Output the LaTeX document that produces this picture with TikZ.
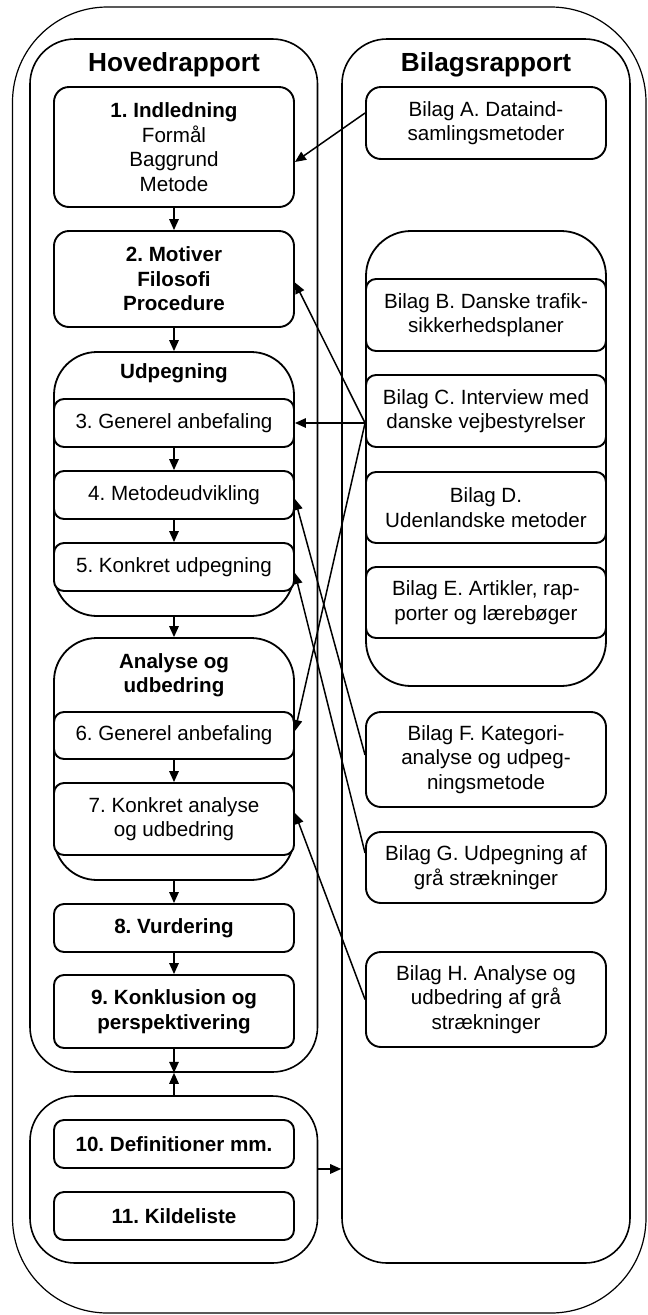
\documentclass[tikz,border=0pt]{standalone}
\usepackage{fontspec}
\setmainfont{Liberation Sans}
\frenchspacing
\usetikzlibrary{arrows.meta}

\begin{document}
\begin{tikzpicture}[x=1pt,y=-1pt,
  frame/.style={draw, line width=1.2pt, rounded corners=95pt, inner sep=0pt},
  part/.style={draw, line width=1.6pt, rounded corners=45pt, inner sep=0pt},
  group/.style={draw, fill=white, line width=1.8pt, rounded corners=43pt, inner sep=0pt},
  bigbox/.style={draw, fill=white, line width=1.9pt, rounded corners=15pt, align=center, inner sep=0pt,
    font=\fontsize{20.6}{24.5}\selectfont},
  smallbox/.style={bigbox, rounded corners=10pt},
  boldtext/.style={font=\fontsize{20.6}{24.5}\selectfont\bfseries},
  title/.style={font=\fontsize{26.2}{30}\selectfont\bfseries},
  link/.style={line width=1.5pt, -{Triangle[length=11pt,width=9.5pt]}},
]
\useasboundingbox (0,0) rectangle (648,1315);

% outer frame and the two report columns
\node[frame, minimum width=633.5pt, minimum height=1306pt] (frame) at (329.25,660) {};
\node[part, minimum width=287.5pt, minimum height=1033pt] (hoved) at (173.75,555.5) {};
\node[part, minimum width=288pt, minimum height=1224pt] (bilag) at (486,651) {};
\node[part, minimum width=287.5pt, minimum height=167pt] (lower) at (173.75,1179.5) {};

\node[title] (thoved) at (174,65) {Hovedrapport};
\node[title] (tbilag) at (486,65) {Bilagsrapport};

% main report chapters
\node[bigbox, minimum width=240pt, minimum height=120pt] (b1) at (174,147)
  {\textbf{1. Indledning}\\Formål\\Baggrund\\Metode};
\node[bigbox, minimum width=240pt, minimum height=96pt, boldtext] (b2) at (174,279)
  {2. Motiver\\Filosofi\\Procedure};

\node[group, minimum width=240pt, minimum height=264pt] (udp) at (174,484) {};
\node[boldtext] (tudp) at (174,373) {Udpegning};
\node[smallbox, minimum width=240pt, minimum height=48pt] (b3) at (174,423) {3. Generel anbefaling};
\node[smallbox, minimum width=240pt, minimum height=48pt] (b4) at (174,495) {4. Metodeudvikling};
\node[smallbox, minimum width=240pt, minimum height=48pt] (b5) at (174,567) {5. Konkret udpegning};

\node[group, minimum width=240pt, minimum height=242pt] (ana) at (174,759) {};
\node[boldtext, align=center] (tana) at (174,675) {Analyse og\\udbedring};
\node[smallbox, minimum width=240pt, minimum height=47pt] (b6) at (174,735.5) {6. Generel anbefaling};
\node[smallbox, minimum width=240pt, minimum height=72pt] (b7) at (174,819) {7. Konkret analyse\\og udbedring};

\node[smallbox, minimum width=240pt, minimum height=48pt, boldtext] (b8) at (174,928) {8. Vurdering};
\node[smallbox, minimum width=240pt, minimum height=73pt, boldtext] (b9) at (174,1011.5) {9. Konklusion og\\perspektivering};

\node[smallbox, minimum width=240pt, minimum height=48pt, boldtext] (b10) at (174,1144) {10. Definitioner mm.};
\node[smallbox, minimum width=240pt, minimum height=48pt, boldtext] (b11) at (174,1216) {11. Kildeliste};

% appendices
\node[bigbox, minimum width=240pt, minimum height=72pt] (bA) at (486,123) {Bilag A. Dataind-\\samlingsmetoder};
\node[group, rounded corners=45pt, minimum width=240pt, minimum height=455pt] (bgrp) at (486,458.5) {};
\node[smallbox, minimum width=240pt, minimum height=72pt] (bB) at (486,315) {Bilag B. Danske trafik-\\sikkerhedsplaner};
\node[smallbox, minimum width=240pt, minimum height=72pt] (bC) at (486,411) {Bilag C. Interview med\\danske vejbestyrelser};
\node[smallbox, minimum width=240pt, minimum height=71pt] (bD) at (486,507.5) {Bilag D.\\Udenlandske metoder};
\node[smallbox, minimum width=240pt, minimum height=71pt] (bE) at (486,602.5) {Bilag E. Artikler, rap-\\porter og lærebøger};
\node[bigbox, minimum width=240pt, minimum height=95pt] (bF) at (486,759.5) {Bilag F. Kategori-\\analyse og udpeg-\\ningsmetode};
\node[bigbox, minimum width=240pt, minimum height=71pt] (bG) at (486,867.5) {Bilag G. Udpegning af\\grå strækninger};
\node[bigbox, minimum width=240pt, minimum height=95pt] (bH) at (486,999.5) {Bilag H. Analyse og\\udbedring af grå\\strækninger};

% reading order in the main report
\draw[link] (b1.south) -- (b2.north);
\draw[link] (b2.south) -- (udp.north);
\draw[link] (b3.south) -- (b4.north);
\draw[link] (b4.south) -- (b5.north);
\draw[link] (udp.south) -- (ana.north);
\draw[link] (b6.south) -- (b7.north);
\draw[link] (ana.south) -- (b8.north);
\draw[link] (b8.south) -- (b9.north);
\draw[link] (b9.south) -- (b9.south |- hoved.south);
\draw[link] (b9.south |- lower.north) -- (b9.south |- hoved.south);
\draw[link] (lower.east |- b10.south) -- (bilag.west |- b10.south);

% appendices feeding the chapters
\draw[link] ([yshift=10pt]bA.west) -- ([yshift=-15pt]b1.east);
\draw[link] ([yshift=-12pt]bC.west) -- ([yshift=-3.5pt]b2.east);
\draw[link] ([yshift=-12pt]bC.west) -- (b3.east);
\draw[link] ([yshift=-12pt]bC.west) -- ([yshift=4.5pt]b6.east);
\draw[link] ([yshift=4.5pt]bF.west) -- ([yshift=-4pt]b4.east);
\draw[link] ([yshift=14.5pt]bG.west) -- ([yshift=-6pt]b5.east);
\draw[link] (bH.west) -- ([yshift=6pt]b7.east);
\end{tikzpicture}
\end{document}
